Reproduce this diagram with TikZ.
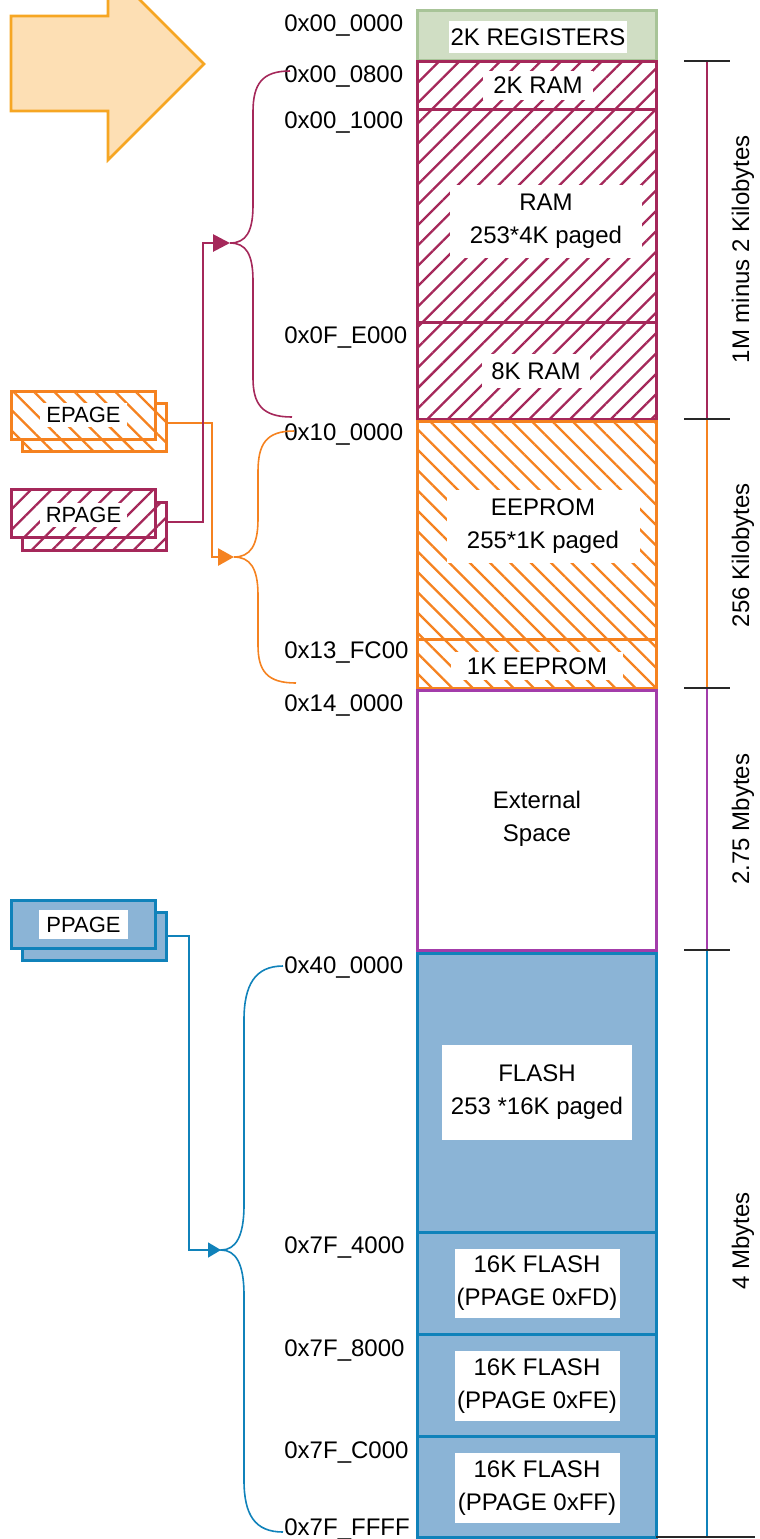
\documentclass[tikz,border=0pt]{standalone}
\usepackage{fontspec}
\setmainfont{Liberation Sans}
\usetikzlibrary{arrows.meta,patterns.meta,calc}
\definecolor{crim}{RGB}{165,40,90}
\definecolor{orng}{RGB}{245,130,32}
\definecolor{purp}{RGB}{163,60,170}
\definecolor{bluB}{RGB}{16,130,186}
\definecolor{bluF}{RGB}{139,180,214}
\definecolor{grnF}{RGB}{208,222,196}
\definecolor{grnB}{RGB}{168,196,152}
\definecolor{arrF}{RGB}{253,223,180}
\definecolor{arrB}{RGB}{246,166,35}
\definecolor{tickc}{RGB}{40,40,40}
\begin{document}
\begin{tikzpicture}[x=0.5pt,y=-0.5pt,
  font=\fontsize{12}{16.5}\selectfont,
  hatchNE/.style={pattern={Lines[angle=45,distance=7.2pt,line width=1.15pt]}},
  hatchNW/.style={pattern={Lines[angle=-45,distance=7.2pt,line width=1.15pt]}},
  regblk/.style={draw=grnB,fill=grnF,line width=1.5pt},
  ramblk/.style={draw=crim,line width=1.5pt,hatchNE,pattern color=crim},
  eeblk/.style={draw=orng,line width=1.5pt,hatchNW,pattern color=orng},
  extblk/.style={draw=purp,fill=white,line width=1.5pt},
  flblk/.style={draw=bluB,fill=bluF,line width=1.5pt},
  lbl/.style={fill=white,inner sep=0pt,align=center},
  addr/.style={anchor=base west,inner sep=0pt},
  side/.style={rotate=90,inner sep=0pt},
  tickln/.style={draw=tickc,line width=0.7pt},
  pgbox/.style={minimum width=72pt,minimum height=24pt,inner sep=0pt,line width=1.5pt},
  pglbl/.style={fill=white,inner sep=0pt,font=\fontsize{11}{13}\selectfont},
  brace/.style={line width=0.8pt},
  conn/.style={line width=1.4pt},
]
\path[use as bounding box] (0,0) rectangle (760,1539);

% big arrow
\begin{scope}
\clip (0,0) rectangle (760,1539);
\draw[fill=arrF,draw=arrB,line width=1.3pt,line join=miter]
  (11,16) -- (108,16) -- (108,-32) -- (204,64) -- (108,160) -- (108,111) -- (11,111) -- cycle;
\end{scope}

% memory blocks
\draw[regblk] (417,10) rectangle (656,60);
\draw[ramblk] (417,61) rectangle (656,109);
\draw[ramblk] (417,109) rectangle (656,322);
\draw[ramblk] (417,322) rectangle (656,419);
\draw[eeblk] (417,421) rectangle (656,639);
\draw[eeblk] (417,639) rectangle (656,688);
\draw[extblk] (417,690) rectangle (656,950);
\draw[flblk] (417,953) rectangle (656,1232);
\draw[flblk] (417,1232) rectangle (656,1334);
\draw[flblk] (417,1334) rectangle (656,1436);
\draw[flblk] (417,1436) rectangle (656,1537);

% block labels
\node[lbl,minimum width=89pt,minimum height=16pt] (lreg) at (538,37) {2K REGISTERS};
\node[lbl,minimum width=55pt,minimum height=14.5pt] (lram2) at (538,85) {2K RAM};
\node[lbl,minimum width=96pt,minimum height=36.5pt] (lram) at (546,221) {RAM\\253*4K paged};
\node[lbl,minimum width=54pt,minimum height=17pt] (lram8) at (536,371) {8K RAM};
\node[lbl,minimum width=96.5pt,minimum height=36.5pt] (lee) at (543,526) {EEPROM\\255*1K paged};
\node[lbl,minimum width=86pt,minimum height=14pt] (lee1) at (537,666) {1K EEPROM};
\node[align=center,inner sep=0pt] (lext) at (537,819) {External\\Space};
\node[lbl,minimum width=95pt,minimum height=47.5pt] (lfl) at (537,1092) {FLASH\\253 *16K paged};
\node[lbl,minimum width=82.5pt,minimum height=34.5pt] (lfd) at (537,1283) {16K FLASH\\(PPAGE 0xFD)};
\node[lbl,minimum width=82.5pt,minimum height=35pt] (lfe) at (537,1386) {16K FLASH\\(PPAGE 0xFE)};
\node[lbl,minimum width=82.5pt,minimum height=35pt] (lff) at (537,1488) {16K FLASH\\(PPAGE 0xFF)};

% addresses
\node[addr] (a1) at (284,31) {0x00\_0000};
\node[addr] (a2) at (284,82) {0x00\_0800};
\node[addr] (a3) at (284,128) {0x00\_1000};
\node[addr] (a4) at (284,343) {0x0F\_E000};
\node[addr] (a5) at (284,440) {0x10\_0000};
\node[addr] (a6) at (284,658) {0x13\_FC00};
\node[addr] (a7) at (284,711) {0x14\_0000};
\node[addr] (a8) at (284,973) {0x40\_0000};
\node[addr] (a9) at (284,1253) {0x7F\_4000};
\node[addr] (a10) at (284,1356) {0x7F\_8000};
\node[addr] (a11) at (284,1458) {0x7F\_C000};
\node[addr] (a12) at (284,1535) {0x7F\_FFFF};

% size scale
\draw[crim,line width=1.3pt] (707,61) -- (707,419);
\draw[orng,line width=1.3pt] (707,419) -- (707,688);
\draw[purp,line width=1.3pt] (707,688) -- (707,950);
\draw[bluB,line width=1.3pt] (707,950) -- (707,1537);
\draw[tickln] (684,61) -- (730,61);
\draw[tickln] (684,419) -- (730,419);
\draw[tickln] (684,688) -- (730,688);
\draw[tickln] (684,950) -- (730,950);
\draw[tickln] (656,1537) -- (755,1537);
\node[side] (s1) at (743,249) {1M minus 2 Kilobytes};
\node[side] (s2) at (743,555) {256 Kilobytes};
\node[side] (s3) at (743,819) {2.75 Mbytes};
\node[side] (s4) at (743,1241) {4 Mbytes};

% page registers
\node[pgbox,draw=orng,hatchNW,pattern color=orng] (eback) at (94.5,427) {};
\node[pgbox,draw=orng,fill=white,postaction={hatchNW,pattern color=orng}] (efront) at (83,415) {};
\node[pglbl,minimum width=43.5pt,minimum height=12pt] (elbl) at (83.5,415) {EPAGE};

\node[pgbox,draw=crim,hatchNE,pattern color=crim] (rback) at (94.5,526) {};
\node[pgbox,draw=crim,fill=white,postaction={hatchNE,pattern color=crim}] (rfront) at (83,513) {};
\node[pglbl,minimum width=43.5pt,minimum height=12pt] (rlbl) at (83.5,515) {RPAGE};

\node[pgbox,draw=bluB,fill=bluF] (pback) at (94.5,936) {};
\node[pgbox,draw=bluB,fill=bluF] (pfront) at (83,924) {};
\node[pglbl,minimum width=44.5pt,minimum height=14.5pt] (plbl) at (83.5,924.5) {PPAGE};

% brace tips
\coordinate (rtip) at (230,243);
\coordinate (etip) at (234,557);
\coordinate (ptip) at (221,1250);

% braces
\draw[crim,brace] (290,71) .. controls (262,71) and (253,84) .. (253,112)
  -- (253,205) .. controls (253,232) and (246,243) .. (rtip)
  .. controls (246,243) and (253,254) .. (253,281)
  -- (253,378) .. controls (253,404) and (262,417) .. (292,417);
\draw[orng,brace] (294,431) .. controls (266,431) and (258,444) .. (258,472)
  -- (258,519) .. controls (258,546) and (250,557) .. (etip)
  .. controls (250,557) and (258,568) .. (258,595)
  -- (258,645) .. controls (258,671) and (267,683) .. (296,683);
\draw[bluB,brace] (283,966) .. controls (255,966) and (244,985) .. (244,1020)
  -- (244,1205) .. controls (244,1236) and (236,1250) .. (ptip)
  .. controls (236,1250) and (244,1264) .. (244,1295)
  -- (244,1480) .. controls (244,1515) and (255,1532) .. (283,1532);

% connectors
\draw[orng,conn,-{Triangle[length=8pt,width=8.5pt]}] ([yshift=2pt]eback.east) -| ([xshift=-11pt]etip) -- (etip);
\draw[crim,conn,-{Triangle[length=8.5pt,width=8.5pt]}] ([yshift=2pt]rback.east) -| ([xshift=-13.5pt]rtip) -- (rtip);
\draw[bluB,line width=0.75pt,-{Triangle[length=6.5pt,width=7.5pt]}] (pback.east) -| ([xshift=-16pt]ptip) -- (ptip);
\end{tikzpicture}
\end{document}
